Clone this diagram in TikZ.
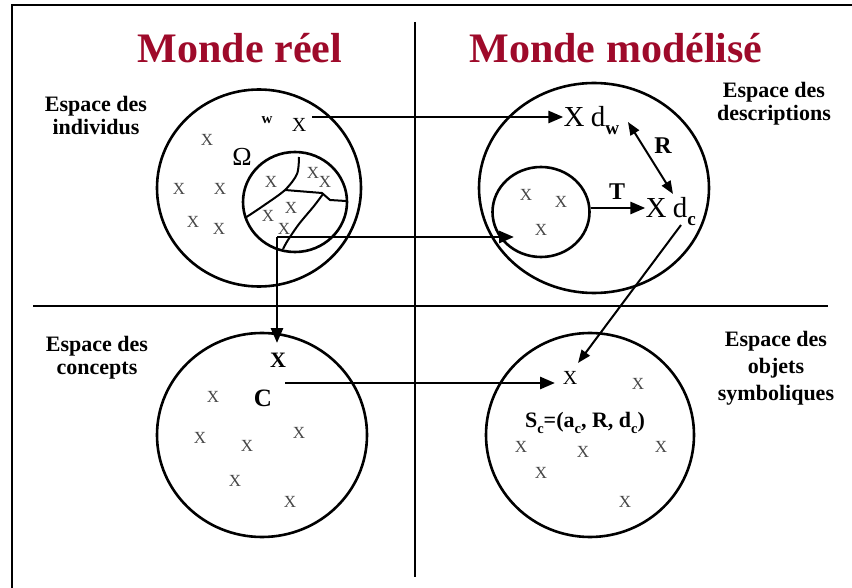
\documentclass[tikz,border=0pt]{standalone}
\usepackage{fontspec}
\setmainfont{Liberation Serif}
\usetikzlibrary{arrows.meta,shapes.geometric}
\definecolor{titlered}{RGB}{158,10,42}
\newcommand{\subbf}[1]{\raisebox{-0.28em}{\fontsize{0.66em}{0.66em}\selectfont\bfseries #1}}
\begin{document}
\begin{tikzpicture}[x=1pt,y=-1pt,
  ring/.style={draw, line width=2.6pt, ellipse, inner sep=0pt},
  maintitle/.style={font=\fontsize{42}{45}\selectfont\bfseries, text=titlered, inner sep=0pt},
  spacelbl/.style={font=\fontsize{22}{23}\selectfont\bfseries, align=center, inner sep=0pt},
  sx/.style={font=\fontsize{17}{17}\selectfont, text=black!72, inner sep=0pt},
  bigx/.style={font=\fontsize{29}{29}\selectfont, inner sep=0pt},
  divider/.style={line width=2.2pt},
  mainarrow/.style={line width=2.8pt, -{Triangle[length=15pt,width=12pt]}},
  thinarrow/.style={line width=2pt, -{Triangle[length=13pt,width=10pt]}},
  boldlbl/.style={font=\fontsize{24}{24}\selectfont\bfseries, inner sep=0pt},
  curve/.style={line width=2pt},
]
\useasboundingbox (0,0) rectangle (852,588);
\fill[white] (0,0) rectangle (852,588);
% frame
\coordinate (fTL) at (12,5);
\coordinate (fTR) at (853,5);
\coordinate (fBL) at (12,589);
\draw[line width=2.6pt] (fBL) -- (fTL) -- (fTR);
% dividers
\coordinate (vt) at (415,22);
\coordinate (vb) at (415,577);
\coordinate (hl) at (33,306);
\coordinate (hr) at (828,306);
\draw[divider] (vt) -- (vb);
\draw[divider] (hl) -- (hr);
% titles
\node[maintitle] (t1) at (240,48) {Monde réel};
\node[maintitle] (t2) at (616,48) {Monde modélisé};
% space labels
\node[spacelbl] (s1) at (96,116) {Espace des\\individus};
\node[spacelbl] (s2) at (774,104) {Espace des\\descriptions};
\node[spacelbl] (s3) at (97,358) {Espace des\\concepts};
\node[spacelbl, font=\fontsize{22}{27}\selectfont\bfseries] (s4) at (776,368) {Espace des\\objets\\symboliques};
% circles
\node[ring, minimum width=204pt, minimum height=197pt] (c1) at (259,188) {};
\node[ring, minimum width=104pt, minimum height=100pt] (c1i) at (295,202) {};
\node[ring, minimum width=230pt, minimum height=210pt] (c2) at (594,188) {};
\node[ring, minimum width=97pt, minimum height=90pt] (c2i) at (541,212) {};
\node[ring, minimum width=210pt, minimum height=204pt] (c3) at (262,435) {};
\node[ring, minimum width=208pt, minimum height=204pt] (c4) at (590,435) {};
% small x's
\foreach \p [count=\i] in {(207,140),(179,189),(220,189),(193,222),(219,229),
  (271,182),(313,173),(325,182),(291,208),(268,216),(284,229)}
  \node[sx] (xa\i) at \p {X};
\foreach \p [count=\i] in {(526,195),(561,202),(541,230)}
  \node[sx] (xb\i) at \p {X};
\foreach \p [count=\i] in {(213,397),(200,438),(247,446),(299,433),(235,481),(290,502)}
  \node[sx] (xc\i) at \p {X};
\foreach \p [count=\i] in {(638,384),(521,447),(583,452),(661,447),(541,473),(625,502)}
  \node[sx] (xd\i) at \p {X};
% partition curves in the inner circle
\draw[curve] plot[smooth] coordinates {(299,157) (297,174) (285,190) (263,206) (245,218)};
\draw[curve] (285,190) -- (322,193) -- (330,200) -- (346,201);
\draw[curve] plot[smooth] coordinates {(323,194) (314,206) (299,224) (288,240) (283,249)};
% top-left individual
\node[font=\fontsize{15}{15}\selectfont\bfseries, inner sep=0pt] (w) at (267,120) {w};
\node[font=\fontsize{20}{20}\selectfont, inner sep=0pt] (xw) at (299,125) {X};
\node[font=\fontsize{26}{26}\selectfont, inner sep=0pt] (om) at (242,157) {Ω};
% description space
\node[bigx] (Xa) at (574,117) {X};
\node[bigx, anchor=base west] (dw) at ([xshift=6pt]Xa.base east) {d\subbf{w}};
\node[bigx] (Xc) at (656,208) {X};
\node[bigx, anchor=base west] (dc) at ([xshift=6pt]Xc.base east) {d\subbf{c}};
\node[boldlbl] (R) at (663,146) {R};
\node[boldlbl] (T) at (617,192) {T};
% concept space
\node[font=\fontsize{22}{22}\selectfont\bfseries, inner sep=0pt] (Xk) at (278,360) {X};
\node[font=\fontsize{25}{25}\selectfont\bfseries, inner sep=0pt] (C) at (263,398) {C};
% symbolic space
\node[font=\fontsize{20}{20}\selectfont, inner sep=0pt] (xs) at (570,378) {X};
\node[font=\fontsize{22}{22}\selectfont\bfseries, inner sep=0pt] (sc) at (585,423)
  {S\subbf{c}=(a\subbf{c}, R, d\subbf{c})};
% connectors
\coordinate (a1s) at (312,117);
\draw[mainarrow] (a1s) -- (Xa.west);
\coordinate (r1) at (628,122);
\coordinate (r2) at (673,194);
\draw[line width=2pt, {Triangle[length=13pt,width=10pt]}-{Triangle[length=13pt,width=10pt]}] (r1) -- (r2);
\draw[mainarrow] (c2i.east |- Xc) -- (Xc.west);
\coordinate (corner) at (277,237);
\coordinate (a2e) at (514,237);
\coordinate (a3e) at (277,343);
\draw[mainarrow] (corner) -- (a2e);
\draw[mainarrow] (corner) -- (a3e);
\coordinate (cs) at (285,383);
\coordinate (ce) at (555,383);
\draw[mainarrow] (cs) -- (ce);
\coordinate (dg) at (681,225);
\coordinate (dge) at (578,363);
\draw[thinarrow] (dg) -- (dge);
\end{tikzpicture}
\end{document}
